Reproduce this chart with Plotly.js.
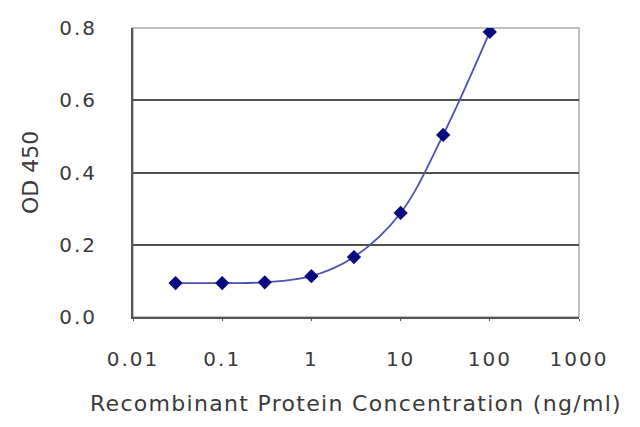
<!DOCTYPE html>
<html>
<head>
<meta charset="utf-8">
<script src="https://cdn.plot.ly/plotly-3.0.1.min.js"></script>
<style>
  html, body { margin: 0; padding: 0; background: #fff; }
  #chart { width: 640px; height: 427px; }
  /* the source picture is stretched sideways, so widen the text a little */
  #chart .xtick text, #chart .ytick text { letter-spacing: 2px; }
  #chart .g-xtitle text { letter-spacing: 1.3px; }
</style>
</head>
<body>
<div id="chart"></div>
<script>
// concentration (ng/ml) and measured OD 450
const concentration = [0.03, 0.1, 0.3, 1, 3, 10, 30, 100];
const od450 = [0.094, 0.094, 0.096, 0.113, 0.166, 0.288, 0.504, 0.789];

const xTicks = [0.01, 0.1, 1, 10, 100, 1000];
const xTickText = ['0.01', '0.1', '1', '10', '100', '1000'];
const yTicks = [0, 0.2, 0.4, 0.6, 0.8];

const font = { family: 'DejaVu Sans, Liberation Sans, sans-serif', size: 20, color: '#3a3a3a' };
const titleFont = { family: 'DejaVu Sans, Liberation Sans, sans-serif', size: 22, color: '#3a3a3a' };

const trace = {
  x: concentration,
  y: od450,
  type: 'scatter',
  mode: 'lines+markers',
  line: { color: '#5050b0', width: 1.8, shape: 'spline', smoothing: 1 },
  marker: { symbol: 'diamond', size: 11, color: '#0a0a80' },
  showlegend: false,
  hoverinfo: 'x+y'
};

const layout = {
  width: 640,
  height: 427,
  margin: { l: 133, r: 61, t: 28, b: 110 },
  paper_bgcolor: '#fff',
  plot_bgcolor: '#fff',
  font: font,
  xaxis: {
    type: 'log',
    range: [-2, 3],
    tickvals: xTicks,
    ticktext: xTickText,
    showgrid: false,
    zeroline: false,
    showline: true,
    linecolor: '#555',
    linewidth: 2,
    ticks: 'outside',
    ticklen: 2,
    tickcolor: '#555',
    ticklabelstandoff: 21,
    tickfont: font,
    title: { text: 'Recombinant Protein Concentration (ng/ml)', font: titleFont, standoff: 26 }
  },
  yaxis: {
    range: [0, 0.8],
    tickvals: yTicks,
    tickformat: '.1f',
    showgrid: true,
    gridcolor: '#505050',
    gridwidth: 2,
    zeroline: false,
    showline: true,
    linecolor: '#555',
    linewidth: 2,
    ticks: '',
    ticklabelstandoff: 30,
    tickfont: font,
    title: { text: 'OD 450', font: titleFont, standoff: 20 }
  },
  shapes: [{
    type: 'rect', xref: 'paper', yref: 'paper',
    x0: 0, x1: 1, y0: 0, y1: 1,
    line: { color: '#aaa', width: 1.5 },
    layer: 'below'
  }]
};

Plotly.newPlot('chart', [trace], layout, { staticPlot: true });
</script>
</body>
</html>
